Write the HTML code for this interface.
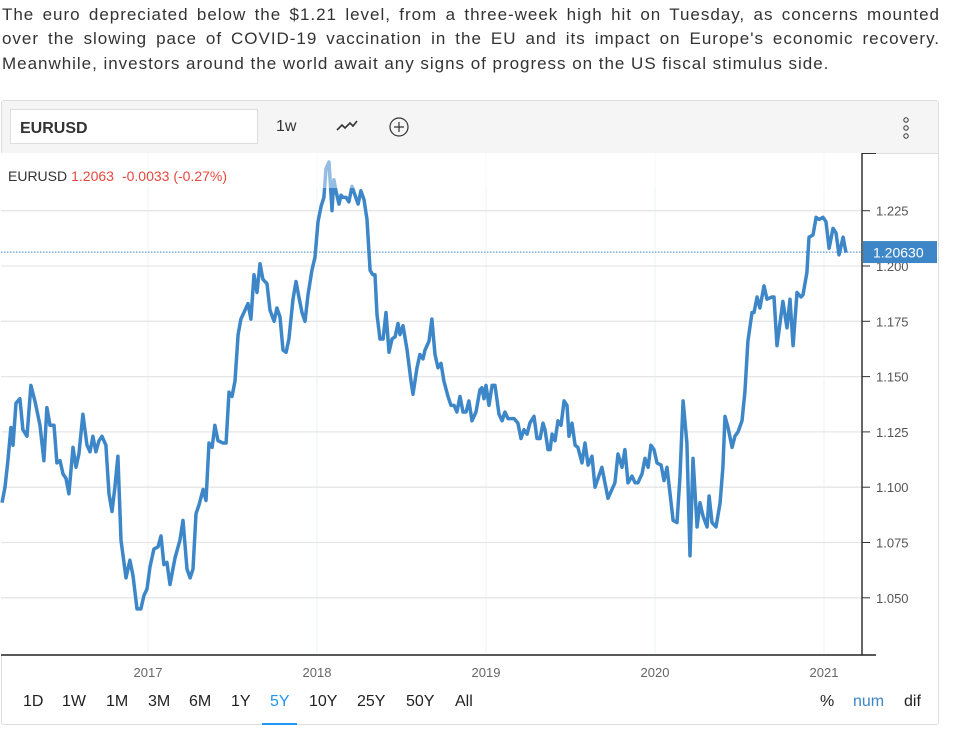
<!DOCTYPE html>
<html><head><meta charset="utf-8"><style>
body{margin:0;width:960px;height:737px;background:#fff;font-family:"Liberation Sans",sans-serif;overflow:hidden;position:relative}
#intro{position:absolute;left:2px;top:3px;width:937px;font-size:17px;line-height:24.3px;color:#333;margin:0;letter-spacing:0.98px}
#intro span{display:block;white-space:nowrap}
#intro span.j{text-align:justify;text-align-last:justify;white-space:normal;margin-right:-1px}
#box{position:absolute;left:1px;top:100px;width:936px;height:623px;border:1px solid #ddd;border-radius:3px}
#toolbar{position:absolute;left:0;top:0;width:936px;height:52px;background:#f5f5f5;border-bottom:1px solid #ddd}
#sym{position:absolute;left:8px;top:8px;width:248px;height:35px;background:#fff;border:1px solid #ddd;box-sizing:border-box;font-weight:bold;font-size:16px;color:#333;padding:10px 9px}
.tb{position:absolute;color:#333;font-size:16px}
.btn{position:absolute;top:693px;font-size:16px;color:#222}
</style></head><body>
<p id="intro"><span class="j">The euro depreciated below the $1.21 level, from a three-week high hit on Tuesday, as concerns mounted</span><span class="j">over the slowing pace of COVID-19 vaccination in the EU and its impact on Europe's economic recovery.</span><span>Meanwhile, investors around the world await any signs of progress on the US fiscal stimulus side.</span></p>
<div id="box">
 <div id="toolbar">
  <div id="sym">EURUSD</div>
  <div class="tb" style="left:274px;top:17px">1w</div>
  <svg style="position:absolute;left:333px;top:17px" width="24" height="16"><polyline points="2,12 7,7 10,10 15,5 18,8 22,3" fill="none" stroke="#333" stroke-width="1.6"/></svg>
  <svg style="position:absolute;left:386px;top:15px" width="22" height="22"><circle cx="11" cy="11" r="9" fill="none" stroke="#333" stroke-width="1.2"/><path d="M11 6v10M6 11h10" stroke="#333" stroke-width="1.2"/></svg>
  <svg style="position:absolute;left:898px;top:15px" width="12" height="26"><circle cx="6" cy="4" r="2.2" fill="none" stroke="#333"/><circle cx="6" cy="12" r="2.2" fill="none" stroke="#333"/><circle cx="6" cy="20" r="2.2" fill="none" stroke="#333"/></svg>
 </div>
</div>
<svg id="chart" width="960" height="737" style="position:absolute;left:0;top:0">
 <g id="grid"></g><g id="lines"></g><g id="axes"></g>
</svg>
<div class="btn" style="left:23px">1D</div>
<div class="btn" style="left:62px">1W</div>
<div class="btn" style="left:106px">1M</div>
<div class="btn" style="left:148px">3M</div>
<div class="btn" style="left:189px">6M</div>
<div class="btn" style="left:231px">1Y</div>
<div class="btn" style="left:270px;color:#2196f3">5Y</div>
<div style="position:absolute;left:262px;top:723px;width:35px;height:2px;background:#2196f3"></div>
<div class="btn" style="left:309px">10Y</div>
<div class="btn" style="left:357px">25Y</div>
<div class="btn" style="left:406px">50Y</div>
<div class="btn" style="left:455px">All</div>
<div class="btn" style="left:820px">%</div>
<div class="btn" style="left:853px;color:#3d85c6">num</div>
<div class="btn" style="left:904px">dif</div>
<script>
const dates=[2016.136,2016.154,2016.171,2016.189,2016.201,2016.219,2016.242,2016.260,2016.284,2016.307,2016.331,2016.361,2016.384,2016.402,2016.420,2016.444,2016.461,2016.479,2016.497,2016.515,2016.532,2016.556,2016.574,2016.591,2016.615,2016.639,2016.657,2016.674,2016.692,2016.710,2016.728,2016.751,2016.769,2016.787,2016.804,2016.822,2016.840,2016.870,2016.893,2016.911,2016.935,2016.958,2016.976,2016.994,2017.012,2017.035,2017.059,2017.077,2017.094,2017.112,2017.130,2017.160,2017.189,2017.207,2017.231,2017.249,2017.266,2017.284,2017.302,2017.326,2017.343,2017.361,2017.379,2017.396,2017.414,2017.444,2017.462,2017.479,2017.497,2017.515,2017.533,2017.550,2017.574,2017.592,2017.609,2017.627,2017.645,2017.663,2017.680,2017.704,2017.722,2017.746,2017.763,2017.781,2017.799,2017.817,2017.834,2017.858,2017.876,2017.893,2017.911,2017.929,2017.947,2017.970,2017.988,2018.006,2018.024,2018.041,2018.053,2018.071,2018.089,2018.100,2018.112,2018.130,2018.142,2018.154,2018.172,2018.189,2018.207,2018.225,2018.243,2018.260,2018.278,2018.296,2018.314,2018.331,2018.343,2018.355,2018.373,2018.391,2018.408,2018.426,2018.444,2018.462,2018.479,2018.491,2018.509,2018.533,2018.556,2018.568,2018.592,2018.609,2018.627,2018.639,2018.663,2018.680,2018.698,2018.716,2018.734,2018.751,2018.775,2018.793,2018.811,2018.828,2018.846,2018.864,2018.882,2018.899,2018.917,2018.941,2018.964,2018.976,2018.988,2019.000,2019.018,2019.036,2019.053,2019.077,2019.095,2019.112,2019.130,2019.148,2019.166,2019.189,2019.207,2019.225,2019.243,2019.260,2019.284,2019.302,2019.320,2019.337,2019.349,2019.367,2019.379,2019.391,2019.408,2019.426,2019.444,2019.462,2019.479,2019.491,2019.509,2019.527,2019.544,2019.568,2019.586,2019.604,2019.627,2019.645,2019.686,2019.722,2019.763,2019.781,2019.805,2019.822,2019.840,2019.864,2019.882,2019.899,2019.923,2019.941,2019.959,2019.976,2019.994,2020.012,2020.036,2020.053,2020.071,2020.107,2020.130,2020.148,2020.166,2020.189,2020.207,2020.225,2020.249,2020.266,2020.284,2020.308,2020.320,2020.337,2020.361,2020.385,2020.402,2020.414,2020.432,2020.456,2020.473,2020.491,2020.515,2020.532,2020.550,2020.574,2020.586,2020.604,2020.621,2020.645,2020.663,2020.692,2020.704,2020.722,2020.757,2020.781,2020.799,2020.817,2020.840,2020.864,2020.876,2020.899,2020.911,2020.935,2020.953,2020.971,2020.994,2021.012,2021.030,2021.053,2021.071,2021.089,2021.113,2021.130];
const prices=[1.093,1.100,1.112,1.127,1.119,1.138,1.140,1.126,1.123,1.146,1.139,1.128,1.112,1.136,1.128,1.128,1.111,1.112,1.106,1.104,1.097,1.118,1.109,1.115,1.133,1.119,1.116,1.123,1.116,1.121,1.123,1.119,1.097,1.089,1.100,1.114,1.076,1.059,1.067,1.060,1.045,1.045,1.051,1.054,1.064,1.072,1.073,1.078,1.065,1.066,1.056,1.068,1.076,1.085,1.063,1.059,1.063,1.088,1.092,1.099,1.094,1.120,1.118,1.128,1.121,1.120,1.120,1.143,1.141,1.148,1.169,1.176,1.180,1.183,1.176,1.196,1.188,1.201,1.194,1.192,1.180,1.175,1.181,1.177,1.162,1.161,1.167,1.185,1.193,1.186,1.179,1.175,1.187,1.198,1.204,1.220,1.227,1.231,1.244,1.247,1.225,1.239,1.234,1.228,1.232,1.231,1.231,1.229,1.236,1.232,1.228,1.234,1.230,1.221,1.198,1.196,1.196,1.178,1.167,1.167,1.179,1.161,1.167,1.168,1.174,1.169,1.173,1.162,1.148,1.142,1.154,1.160,1.158,1.162,1.166,1.176,1.160,1.154,1.156,1.148,1.141,1.137,1.137,1.134,1.141,1.134,1.134,1.139,1.130,1.134,1.144,1.145,1.140,1.146,1.137,1.146,1.146,1.133,1.130,1.134,1.131,1.131,1.131,1.129,1.122,1.126,1.124,1.129,1.132,1.122,1.122,1.129,1.126,1.117,1.117,1.124,1.121,1.130,1.128,1.139,1.137,1.123,1.129,1.119,1.118,1.111,1.120,1.110,1.114,1.100,1.109,1.095,1.102,1.115,1.109,1.117,1.102,1.105,1.102,1.102,1.106,1.113,1.109,1.119,1.117,1.111,1.110,1.103,1.109,1.085,1.084,1.105,1.139,1.120,1.069,1.113,1.082,1.093,1.087,1.082,1.096,1.084,1.082,1.093,1.109,1.132,1.127,1.118,1.123,1.125,1.130,1.143,1.166,1.179,1.179,1.186,1.181,1.191,1.185,1.186,1.186,1.164,1.184,1.172,1.185,1.164,1.188,1.186,1.187,1.197,1.213,1.214,1.222,1.221,1.222,1.220,1.208,1.217,1.215,1.205,1.213,1.206];
const yTicks=[1.225,1.200,1.175,1.150,1.125,1.100,1.075,1.050];
const yTickLabels=["1.225","1.200","1.175","1.150","1.125","1.100","1.075","1.050"];
const xTicks=[2017,2018,2019,2020,2021];
const lastPrice=1.2063;
const lastLabel="1.20630";

const NS="http://www.w3.org/2000/svg";
const X=yr=>148+(yr-2017)*169;
const Y=v=>266-(v-1.2)/0.025*55.3;
function mk(parent,tag,attrs,text){const e=document.createElementNS(NS,tag);for(const k in attrs)e.setAttribute(k,attrs[k]);if(text!==undefined)e.textContent=text;parent.appendChild(e);return e;}
const grid=document.getElementById('grid'),lines=document.getElementById('lines'),axes=document.getElementById('axes');
mk(grid,'rect',{x:1,y:153,width:861,height:502,fill:'#fff'});
xTicks.forEach(t=>{
 const l=mk(grid,'line',{x1:X(t),x2:X(t),y1:153,y2:655,stroke:'#eef3f6','stroke-width':1});
 
 
 const tx=mk(axes,'text',{x:X(t),y:677,'text-anchor':'middle','font-size':13,fill:'#666','font-family':'Liberation Sans, sans-serif'},String(t));
 
 
});
yTicks.forEach((t,i)=>{
 const l=mk(grid,'line',{x1:1,x2:862,y1:Y(t),y2:Y(t),stroke:'#e6e6e6','stroke-width':1.3});
 
 
 mk(axes,'line',{x1:862,x2:870,y1:Y(t),y2:Y(t),stroke:'#333','stroke-width':1});
 const tx=mk(axes,'text',{x:876,y:Y(t)+5,'font-size':13,fill:'#555','font-family':'Liberation Sans, sans-serif'},yTickLabels[i]);
 
 
});
const pts=dates.map((d,i)=>X(d).toFixed(1)+','+Y(prices[i]).toFixed(1)).join(' ');
const pl=mk(lines,'polyline',{points:pts,fill:'none',stroke:'#3d87c8','stroke-width':3.5,'stroke-linejoin':'round'});


const ll=mk(lines,'line',{x1:1,x2:862,y1:Y(lastPrice),y2:Y(lastPrice),stroke:'#3d87c8','stroke-width':1,'stroke-dasharray':'1.5,1.5'});


mk(lines,'rect',{x:1,y:153,width:875,height:35,fill:'#fff','fill-opacity':0.45});
const lg=mk(axes,'text',{x:8,y:181,'font-size':14,'font-family':'Liberation Sans, sans-serif',fill:'#333'});


mk(lg,'tspan',{},'EURUSD');
mk(lg,'tspan',{fill:'#e8483f',dx:4},'1.2063');
mk(lg,'tspan',{fill:'#e8483f',dx:8},'-0.0033 (-0.27%)');
mk(axes,'line',{x1:862,x2:862,y1:153,y2:655,stroke:'#333','stroke-width':1.5});
mk(axes,'line',{x1:862,x2:876,y1:153.5,y2:153.5,stroke:'#333','stroke-width':1});
mk(axes,'line',{x1:1,x2:876,y1:655,y2:655,stroke:'#222','stroke-width':1.5});
const pb=mk(axes,'rect',{x:863,y:Y(lastPrice)-11,width:74,height:22,fill:'#3d87c8'});


mk(axes,'text',{x:873,y:Y(lastPrice)+5.5,'font-size':14,fill:'#fff','font-family':'Liberation Sans, sans-serif'},lastLabel);
</script>
</body></html>
